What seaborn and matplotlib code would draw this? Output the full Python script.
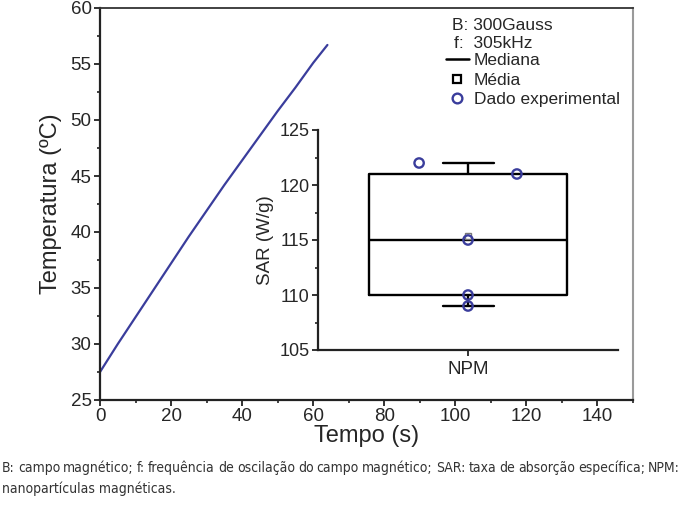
import numpy as np
import pandas as pd
import matplotlib
matplotlib.use("Agg")
import matplotlib.pyplot as plt
from matplotlib.lines import Line2D
from matplotlib.ticker import MultipleLocator
import seaborn as sns

# dados: curva de aquecimento
tempo_s = [0, 5, 10, 15, 20, 25, 30, 35, 40, 45, 50, 55, 60, 64]
temperatura_c = [27.5, 30.0, 32.4, 34.8, 37.2, 39.6, 41.9, 44.2, 46.4, 48.6, 50.8, 52.9, 55.1, 56.7]

# dados: SAR das NPM
sar_wg = [122, 121, 115, 110, 109]
categoria = "NPM"

legenda_campo = ["B: 300Gauss", "f:  305kHz"]
legenda_itens = ["Mediana", "Média", "Dado experimental"]
nota = ("B: campo magnético; f: frequência de oscilação do campo magnético; "
        "SAR: taxa de absorção específica; NPM:")
nota2 = "nanopartículas magnéticas."

azul = "#3a3d9c"

sns.set_style("ticks")
plt.rcParams["font.family"] = ["Liberation Sans", "DejaVu Sans"]

W, H = 682, 524
fig = plt.figure(figsize=(W / 100, H / 100), dpi=100)


def px_box(left, top, right, bottom):
    return [left / W, 1 - bottom / H, (right - left) / W, (bottom - top) / H]


# --- grafico principal
ax = fig.add_axes(px_box(100, 8, 633, 400))
df = pd.DataFrame({"t": tempo_s, "T": temperatura_c})
sns.lineplot(data=df, x="t", y="T", ax=ax, color=azul, linewidth=1.6)
ax.set_xlim(0, 150)
ax.set_ylim(25, 60)
ax.xaxis.set_major_locator(MultipleLocator(20))
ax.xaxis.set_minor_locator(MultipleLocator(10))
ax.yaxis.set_major_locator(MultipleLocator(5))
ax.yaxis.set_minor_locator(MultipleLocator(2.5))
ax.tick_params(which="major", length=4, width=1.3, labelsize=13.5, pad=2, color="#222222")
ax.tick_params(which="minor", length=2.5, width=1.2, color="#222222")
ax.set_xlabel("Tempo (s)", fontsize=17, labelpad=0)
ax.set_ylabel("Temperatura (ºC)", fontsize=17, labelpad=6)
for s in ["left", "bottom"]:
    ax.spines[s].set_linewidth(1.6)
    ax.spines[s].set_color("#222222")
ax.spines["top"].set_linewidth(1.3)
ax.spines["top"].set_color("#333333")
ax.spines["right"].set_linewidth(1.5)
ax.spines["right"].set_color("#9a9a9a")

# legenda
fig.text(452 / W, 1 - 25 / H, legenda_campo[0], fontsize=12.5, va="center", ha="left")
fig.text(454 / W, 1 - 44 / H, legenda_campo[1], fontsize=12.5, va="center", ha="left")
handles = [
    Line2D([], [], color="black", linewidth=1.8),
    Line2D([], [], color="black", marker="s", markersize=6, markerfacecolor="white",
           markeredgewidth=1.6, linestyle="none"),
    Line2D([], [], color=azul, marker="o", markersize=7, markerfacecolor="none",
           markeredgewidth=1.7, linestyle="none"),
]
fig.legend(handles, legenda_itens, loc="upper left", bbox_to_anchor=(446 / W, 1 - 53 / H),
           frameon=False, fontsize=12.5, handlelength=1.3, handletextpad=0.3,
           labelspacing=0.25, borderpad=0, borderaxespad=0)

# --- grafico interno (boxplot)
axi = fig.add_axes(px_box(318, 130, 618, 350))
axi.patch.set_alpha(0)
sns.boxplot(y=sar_wg, ax=axi, width=0.66, whis=(0, 100), fill=False,
            color="black", linewidth=1.7, showmeans=True, capwidths=0.17,
            meanprops=dict(marker="s", markerfacecolor="white", markeredgecolor="#777777",
                           markersize=5, markeredgewidth=1))
for ln in axi.lines:
    if ln.get_marker() not in ("s", "o"):
        ln.set_color("black")
deslocamento = [-0.163, 0.163, 0, 0, 0]
axi.scatter(deslocamento, sar_wg, s=45, facecolors="none", edgecolors=azul,
            linewidths=1.7, zorder=5)
axi.set_xlim(-0.5, 0.5)
axi.set_ylim(105, 125)
axi.set_xticks([0])
axi.set_xticklabels([categoria])
axi.yaxis.set_major_locator(MultipleLocator(5))
axi.yaxis.set_minor_locator(MultipleLocator(2.5))
axi.tick_params(which="major", length=4, width=1.3, labelsize=13, pad=2, color="#222222")
axi.tick_params(axis="x", labelsize=13.5, pad=4)
axi.tick_params(which="minor", length=2.5, width=1.2, color="#222222")
axi.set_ylabel("SAR (W/g)", fontsize=13.5, labelpad=4)
sns.despine(ax=axi)
for s in ["left", "bottom"]:
    axi.spines[s].set_linewidth(1.6)
    axi.spines[s].set_color("#222222")

# --- nota de rodape (justificada)
fig.canvas.draw()
renderer = fig.canvas.get_renderer()
nota_fonte = dict(fontsize=10, color="#333333", family="DejaVu Sans", fontstretch="condensed",
                  fontweight="light", va="center", ha="left")


def linha_justificada(texto, y, x0, x1):
    palavras = texto.split(" ")
    objs = [fig.text(0, 0, p, **nota_fonte) for p in palavras]
    larguras = [o.get_window_extent(renderer).width for o in objs]
    vao = (x1 - x0 - sum(larguras)) / (len(palavras) - 1)
    x = x0
    for o, w in zip(objs, larguras):
        o.set_position((x / W, 1 - y / H))
        x += w + vao


linha_justificada(nota, 468, 2, 680)
fig.text(2 / W, 1 - 489 / H, nota2, **nota_fonte)

fig.savefig("out.png", dpi=100)
